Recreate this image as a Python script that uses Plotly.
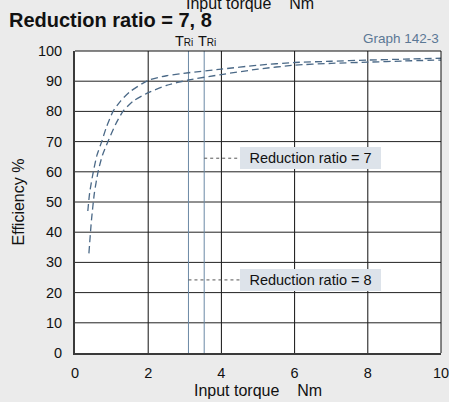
import plotly.graph_objects as go

# Data
ratio7_x = [0.35, 0.40, 0.50, 0.60, 0.73, 0.85, 1.04, 1.25, 1.5, 2.0, 2.5, 3.1, 4.0, 5.0, 6.0, 7.0, 8.0, 9.0, 10.0]
ratio7_y = [47, 53, 60, 65.5, 70, 74.5, 80, 83.5, 86.5, 90.3, 91.8, 92.8, 94.0, 95.3, 96.2, 96.6, 97.0, 97.3, 97.6]
ratio8_x = [0.38, 0.45, 0.53, 0.63, 0.75, 0.90, 1.1, 1.31, 1.6, 2.0, 2.5, 3.1, 4.0, 5.0, 6.0, 7.0, 8.0, 9.0, 10.0]
ratio8_y = [33, 44, 53, 60, 65.5, 70, 75.5, 80, 83.5, 86.2, 88.6, 90.4, 92.2, 94.0, 95.3, 95.9, 96.3, 96.7, 97.0]
tri_ratio8 = 3.10
tri_ratio7 = 3.53
label7_y = 64.5
label8_y = 24.2
x_ticks = [0, 2, 4, 6, 8, 10]
y_ticks = [0, 10, 20, 30, 40, 50, 60, 70, 80, 90, 100]
x_title = "Input torque&nbsp;&nbsp;&nbsp;&nbsp;Nm"
y_title = "Efficiency %"

FONT = "Liberation Sans, Arial, Helvetica, sans-serif"
curve_color = "#4b6987"
tri_color = "#6b88a5"
BG = "#ebebeb"

fig = go.Figure()
for xs, ys in ((ratio7_x, ratio7_y), (ratio8_x, ratio8_y)):
    fig.add_trace(go.Scatter(x=xs, y=ys, mode="lines",
                             line=dict(color=curve_color, width=1.3, dash="7px,4px", shape="spline", smoothing=0.6),
                             hoverinfo="skip"))

shapes = []
for xv in x_ticks[1:-1]:
    shapes.append(dict(type="line", xref="x", yref="y", x0=xv, x1=xv, y0=0, y1=100, line=dict(color="#111111", width=1), layer="below"))
for yv in y_ticks[1:-1]:
    shapes.append(dict(type="line", xref="x", yref="y", x0=0, x1=10, y0=yv, y1=yv, line=dict(color="#222222", width=1), layer="below"))
for xv in (tri_ratio8, tri_ratio7):
    shapes.append(dict(type="line", xref="x", yref="y", x0=xv, x1=xv, y0=0, y1=100, line=dict(color=tri_color, width=1), layer="below"))
box_left = 4.5
shapes.append(dict(type="line", xref="x", yref="y", x0=tri_ratio7, x1=box_left, y0=label7_y, y1=label7_y, line=dict(color="#555555", width=1, dash="dot")))
shapes.append(dict(type="line", xref="x", yref="y", x0=tri_ratio8, x1=box_left, y0=label8_y, y1=label8_y, line=dict(color="#555555", width=1, dash="dot")))
shapes.append(dict(type="line", xref="paper", yref="paper", x0=0, x1=1, y0=1, y1=1, line=dict(color="#111111", width=1)))
shapes.append(dict(type="line", xref="paper", yref="paper", x0=1, x1=1, y0=0, y1=1, line=dict(color="#111111", width=1)))

annotations = []
for yv, txt in ((label7_y, "Reduction ratio = 7"), (label8_y, "Reduction ratio = 8")):
    annotations.append(dict(x=box_left, y=yv, xref="x", yref="y", xanchor="left", yanchor="middle", text=txt, showarrow=False,
                            bgcolor="#dde3ea", width=137, height=18, borderpad=2, borderwidth=0, align="center",
                            font=dict(family=FONT, size=14.5, color="#111111")))
for xv, xs in ((tri_ratio8, -4), (tri_ratio7, 3)):
    annotations.append(dict(x=xv, y=1, xref="x", yref="paper", yanchor="bottom", xanchor="center", xshift=xs, yshift=0,
                            text="T<span style='font-size:10px'>Ri</span>", showarrow=False,
                            font=dict(family=FONT, size=14.5, color="#111111")))
annotations.append(dict(x=1, y=1, xref="paper", yref="paper", xanchor="right", yanchor="bottom", yshift=3,
                        text="Graph 142-3", showarrow=False, font=dict(family=FONT, size=13.5, color="#5b7895")))
annotations.append(dict(x=-0.185, y=1.104, xref="paper", yref="paper", xanchor="left", yanchor="middle",
                        text="<b>Reduction ratio = 7, 8</b>", showarrow=False, font=dict(family=FONT, size=20, color="#111111")))
annotations.append(dict(x=0.478, y=1.158, xref="paper", yref="paper", xanchor="center", yanchor="middle",
                        text=x_title, showarrow=False, font=dict(family=FONT, size=16, color="#111111")))

fig.update_layout(
    width=449, height=402,
    margin=dict(l=75, r=8, t=51, b=49),
    paper_bgcolor=BG, plot_bgcolor="#ffffff",
    showlegend=False,
    font=dict(family=FONT, size=14, color="#111111"),
    shapes=shapes, annotations=annotations,
    xaxis=dict(range=[0, 10], tickvals=x_ticks, showgrid=False, zeroline=False, showline=True, linecolor="#3a3a3a", linewidth=2,
               ticks="", ticklabelstandoff=6, automargin=False, ticklabeloverflow="allow",
               title=dict(text=x_title, standoff=4, font=dict(size=16)), tickfont=dict(size=14.5)),
    yaxis=dict(range=[0, 100], tickvals=y_ticks, showgrid=False, zeroline=False, showline=True, linecolor="#3a3a3a", linewidth=2,
               ticks="", ticklabelstandoff=8, automargin=False, ticklabeloverflow="allow",
               title=dict(text=y_title, standoff=9, font=dict(size=16)), tickfont=dict(size=14.5)),
)
fig.write_html("out.html", config={"displayModeBar": False},
               post_script="document.body.style.margin='0';document.body.style.padding='0';"
                           "document.body.style.overflow='hidden';document.body.style.background='" + BG + "';")
